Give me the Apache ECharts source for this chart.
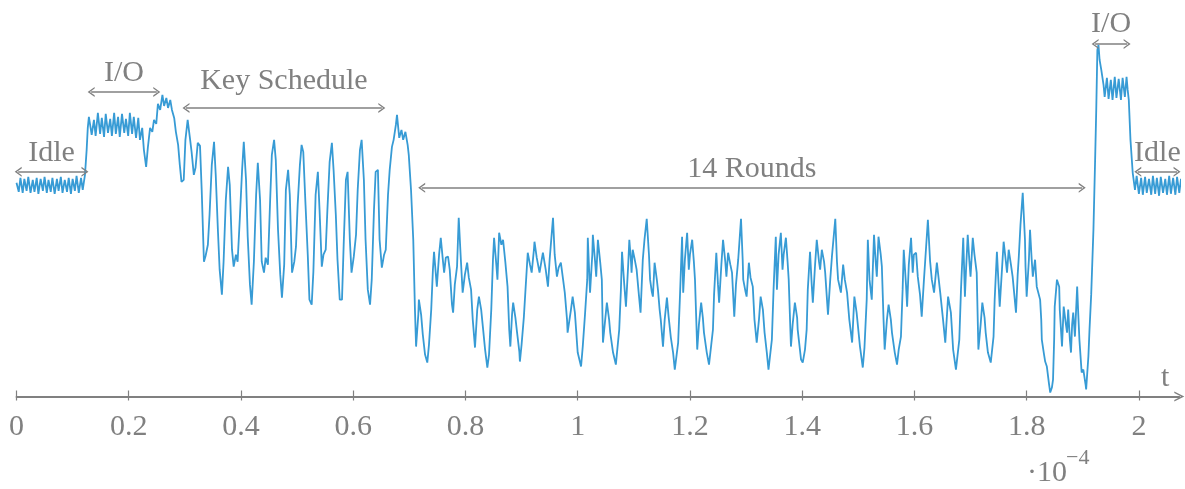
<!DOCTYPE html>
<html><head><meta charset="utf-8">
<script src="https://cdn.jsdelivr.net/npm/echarts@6/dist/echarts.min.js"></script>
<style>html,body{margin:0;padding:0;background:#fff}#c{width:1185px;height:489px}</style>
</head><body><div id="c"></div>
<script>
// time in units of 1e-4 s, power in arbitrary units
const tickValues = [0,0.2,0.4,0.6,0.8,1,1.2,1.4,1.6,1.8,2];

const idleStart = [[0,214],[0.004,205],[0.007,219],[0.011,204],[0.014,218],[0.018,206],[0.021,220],[0.025,204],[0.029,217],[0.032,205],[0.036,219],[0.039,203],[0.043,218],[0.047,206],[0.050,220],[0.054,204],[0.057,217],[0.061,205],[0.064,219],[0.068,203],[0.072,218],[0.075,206],[0.079,220],[0.082,204],[0.086,217],[0.090,205],[0.093,219],[0.097,203],[0.100,218],[0.104,206],[0.107,221],[0.111,204],[0.115,219],[0.118,207],[0.122,222]];

const ioStart = [[0.125,247],[0.127,269],[0.129,280],[0.131,282],[0.134,262],[0.138,277],[0.141,261],[0.145,284],[0.149,263],[0.152,279],[0.156,260],[0.159,283],[0.163,264],[0.167,278],[0.170,261],[0.174,284],[0.177,263],[0.181,280],[0.184,260],[0.188,283],[0.192,264],[0.195,278],[0.199,261],[0.202,284],[0.206,263],[0.209,280],[0.213,259],[0.217,279],[0.220,257],[0.224,269],[0.227,247],[0.231,230],[0.234,249],[0.238,269],[0.242,265],[0.245,277],[0.249,273],[0.252,293],[0.256,287],[0.260,302],[0.263,291],[0.267,299],[0.270,289],[0.274,297],[0.277,287],[0.281,279],[0.284,265],[0.288,252]];

const keySchedule = [[0.291,232],[0.294,215],[0.298,217],[0.301,257],[0.305,277],[0.309,259],[0.312,245],[0.316,222],[0.319,229],[0.323,254],[0.327,251],[0.330,207],[0.334,135],[0.337,141],[0.341,152],[0.344,182],[0.348,232],[0.352,255],[0.355,222],[0.359,165],[0.362,127],[0.366,102],[0.369,135],[0.373,197],[0.377,230],[0.380,212],[0.384,147],[0.387,130],[0.391,142],[0.394,135],[0.398,179],[0.402,227],[0.405,255],[0.409,217],[0.412,160],[0.416,112],[0.419,92],[0.423,135],[0.427,202],[0.430,234],[0.434,197],[0.437,135],[0.441,124],[0.444,139],[0.448,132],[0.452,197],[0.455,242],[0.459,257],[0.462,237],[0.466,167],[0.470,122],[0.473,99],[0.477,132],[0.480,207],[0.484,227],[0.487,202],[0.491,124],[0.495,135],[0.498,150],[0.501,192],[0.505,232],[0.508,252],[0.511,245],[0.515,192],[0.519,142],[0.522,97],[0.526,92],[0.529,125],[0.533,202],[0.537,225],[0.540,187],[0.544,130],[0.547,142],[0.551,147],[0.554,187],[0.558,235],[0.562,254],[0.565,227],[0.569,182],[0.572,137],[0.576,97],[0.580,97],[0.583,152],[0.587,217],[0.590,225],[0.594,157],[0.597,124],[0.601,140],[0.605,162],[0.608,207],[0.612,247],[0.615,257],[0.619,217],[0.622,157],[0.626,107],[0.630,92],[0.633,117],[0.637,187],[0.640,225],[0.644,227],[0.647,157],[0.651,129],[0.655,142],[0.658,147],[0.662,202],[0.665,227],[0.669,250],[0.672,257],[0.676,272],[0.678,282],[0.682,259],[0.686,267],[0.689,257],[0.693,265],[0.697,252],[0.699,242],[0.703,207],[0.707,157]];

const rounds = [[0.710,87],[0.712,50],[0.716,82],[0.717,97],[0.721,82],[0.724,62],[0.728,42],[0.732,34],[0.735,52],[0.739,87],[0.742,127],[0.744,145],[0.748,117],[0.749,110],[0.753,142],[0.756,159],[0.760,135],[0.762,124],[0.765,139],[0.769,140],[0.772,127],[0.776,92],[0.778,84],[0.781,112],[0.785,130],[0.788,179],[0.792,135],[0.795,104],[0.799,122],[0.803,134],[0.806,119],[0.810,107],[0.813,77],[0.817,49],[0.821,87],[0.824,100],[0.828,87],[0.831,70],[0.835,47],[0.839,29],[0.842,42],[0.846,87],[0.849,137],[0.851,159],[0.855,132],[0.857,117],[0.860,164],[0.864,152],[0.867,157],[0.871,135],[0.875,110],[0.878,67],[0.880,50],[0.883,82],[0.885,94],[0.889,79],[0.892,64],[0.896,45],[0.897,35],[0.900,52],[0.904,79],[0.907,107],[0.911,144],[0.915,132],[0.918,124],[0.922,147],[0.923,155],[0.927,139],[0.932,124],[0.938,144],[0.943,127],[0.947,110],[0.950,137],[0.956,179],[0.959,142],[0.963,120],[0.966,129],[0.970,134],[0.974,117],[0.977,104],[0.981,77],[0.982,64],[0.988,87],[0.991,100],[0.995,84],[1.000,44],[1.006,30],[1.009,50],[1.013,82],[1.017,117],[1.018,159],[1.022,104],[1.026,142],[1.027,162],[1.031,135],[1.033,120],[1.036,157],[1.040,135],[1.043,117],[1.045,54],[1.049,77],[1.052,94],[1.056,77],[1.058,64],[1.063,44],[1.068,32],[1.074,67],[1.077,107],[1.079,145],[1.083,112],[1.086,90],[1.090,132],[1.092,157],[1.095,135],[1.096,124],[1.098,147],[1.101,139],[1.105,127],[1.109,102],[1.112,84],[1.116,137],[1.119,157],[1.123,178],[1.127,142],[1.129,117],[1.132,105],[1.134,100],[1.137,134],[1.141,117],[1.143,107],[1.146,87],[1.148,77],[1.152,50],[1.155,77],[1.159,99],[1.162,80],[1.166,59],[1.170,44],[1.173,27],[1.179,54],[1.182,97],[1.186,160],[1.188,104],[1.191,137],[1.195,164],[1.198,127],[1.200,142],[1.204,157],[1.207,135],[1.209,117],[1.213,47],[1.216,72],[1.220,94],[1.223,79],[1.225,64],[1.230,44],[1.234,32],[1.238,52],[1.241,67],[1.243,102],[1.247,144],[1.250,112],[1.252,94],[1.256,132],[1.259,157],[1.263,135],[1.265,120],[1.268,144],[1.272,132],[1.275,124],[1.279,80],[1.282,112],[1.286,137],[1.291,178],[1.294,137],[1.295,117],[1.299,105],[1.301,100],[1.305,134],[1.308,119],[1.312,110],[1.315,77],[1.319,54],[1.323,77],[1.326,100],[1.330,87],[1.333,64],[1.337,44],[1.340,27],[1.346,57],[1.349,107],[1.353,160],[1.355,107],[1.358,142],[1.362,164],[1.365,127],[1.367,142],[1.371,159],[1.374,135],[1.376,117],[1.380,50],[1.383,72],[1.387,94],[1.391,79],[1.392,67],[1.398,37],[1.401,34],[1.405,47],[1.408,67],[1.410,107],[1.414,145],[1.417,112],[1.419,94],[1.423,132],[1.426,157],[1.430,135],[1.432,127],[1.435,147],[1.439,135],[1.441,124],[1.446,82],[1.450,117],[1.453,140],[1.459,178],[1.462,135],[1.464,117],[1.469,104],[1.473,132],[1.476,117],[1.480,104],[1.484,77],[1.489,54],[1.493,100],[1.497,84],[1.503,50],[1.508,29],[1.511,49],[1.515,97],[1.517,157],[1.520,117],[1.524,97],[1.528,162],[1.531,135],[1.533,120],[1.536,160],[1.540,142],[1.542,130],[1.545,77],[1.547,47],[1.551,77],[1.554,92],[1.558,77],[1.560,64],[1.565,44],[1.569,32],[1.572,47],[1.576,60],[1.579,107],[1.581,147],[1.585,112],[1.587,90],[1.590,132],[1.594,159],[1.597,124],[1.599,142],[1.603,144],[1.606,120],[1.610,102],[1.613,80],[1.617,117],[1.619,134],[1.624,177],[1.628,135],[1.631,117],[1.635,104],[1.640,134],[1.646,104],[1.651,77],[1.655,54],[1.660,100],[1.665,84],[1.669,47],[1.674,27],[1.680,57],[1.683,107],[1.687,159],[1.690,100],[1.692,127],[1.695,162],[1.698,135],[1.700,120],[1.704,159],[1.707,142],[1.711,124],[1.714,47],[1.718,72],[1.721,94],[1.725,79],[1.727,64],[1.731,44],[1.736,34],[1.741,60],[1.743,97],[1.747,145],[1.750,112],[1.752,90],[1.756,127],[1.759,155],[1.763,135],[1.765,124],[1.768,147],[1.772,132],[1.775,120],[1.781,84],[1.784,122],[1.786,140],[1.789,172],[1.793,204],[1.797,157],[1.798,130],[1.800,100],[1.804,137],[1.806,167],[1.809,137],[1.811,120],[1.815,137],[1.818,110],[1.824,97],[1.826,77],[1.827,57],[1.831,42],[1.833,35],[1.836,30],[1.840,12],[1.842,4],[1.845,9],[1.847,17],[1.849,57],[1.850,90],[1.854,117],[1.858,110],[1.859,87],[1.863,50],[1.865,77],[1.866,90],[1.870,72],[1.872,64],[1.874,87],[1.877,57],[1.879,44],[1.881,72],[1.883,84],[1.886,60],[1.890,110],[1.892,82],[1.894,57],[1.898,24],[1.901,27],[1.905,12],[1.906,7],[1.910,40],[1.912,67],[1.915,102],[1.919,167],[1.922,237],[1.924,287],[1.926,347]];

const ioEnd = [[1.928,352],[1.930,337],[1.933,327],[1.937,312],[1.939,300],[1.943,319],[1.946,298],[1.950,317],[1.953,297],[1.957,320],[1.960,299],[1.964,318],[1.968,297],[1.971,319],[1.975,300],[1.978,320],[1.980,307],[1.982,297],[1.985,257]];

const idleEnd = [[1.989,224],[1.993,207],[1.996,221],[2.000,203],[2.004,219],[2.007,202],[2.011,220],[2.014,204],[2.018,218],[2.022,202],[2.025,221],[2.029,203],[2.032,219],[2.036,201],[2.039,220],[2.043,204],[2.047,218],[2.050,202],[2.054,221],[2.057,203],[2.061,219],[2.065,202],[2.068,220],[2.072,204],[2.075,218],[2.079,203],[2.083,219]];

const phaseNames = ['Idle','I/O','Key Schedule','14 Rounds','I/O','Idle'];
const phaseStart = [0.003,0.133,0.302,0.722,1.922,1.998];
const phaseEnd   = [0.122,0.250,0.651,1.899,1.979,2.068];
const phaseLevel = [225,305,289,209,353,225];

const trace = [].concat(idleStart, ioStart, keySchedule, rounds, ioEnd, idleEnd);

const GRAY = '#808080';
const FONT = '"Liberation Serif","Times New Roman",serif';
const chevron = 'path://M5,0L10,10L8.4,10L5,3.2L1.6,10L0,10Z';
const labelGap = [4,4,12,4,5,4];

const chart = echarts.init(document.getElementById('c'), null, {renderer:'canvas'});
chart.setOption({
  animation:false,
  backgroundColor:'#fff',
  grid:{left:16.5,right:5.7,top:37,bottom:92.5},
  xAxis:[{
    type:'value',min:0,max:2.072,position:'bottom',
    axisLine:{show:true,onZero:false,lineStyle:{color:GRAY,width:1.8},symbol:['none',chevron],symbolSize:[12,10]},
    axisTick:{show:true,inside:false,length:4,lineStyle:{color:GRAY,width:1.2},customValues:tickValues},
    axisLabel:{show:true,customValues:tickValues,color:GRAY,fontFamily:FONT,fontSize:30,margin:16},
    splitLine:{show:false}
  },{
    type:'value',min:0,max:2.072,position:'bottom',
    axisLine:{show:false,onZero:false},
    axisTick:{show:true,inside:true,length:6,lineStyle:{color:GRAY,width:1.2},customValues:tickValues},
    axisLabel:{show:false},splitLine:{show:false}
  }],
  yAxis:{type:'value',min:0,max:360,show:false},
  series:[{
    type:'line',data:trace,xAxisIndex:0,showSymbol:false,symbol:'none',clip:false,
    lineStyle:{color:'#379bd5',width:1.8},
    emphasis:{disabled:true},
    markLine:{
      silent:true,animation:false,
      symbol:[chevron,chevron],symbolSize:[10,7],
      lineStyle:{color:GRAY,width:1.5,type:'solid'},
      label:{show:true,position:'insideMiddleTop',formatter:'{b}',color:GRAY,fontFamily:FONT,fontSize:30},
      data:phaseNames.map((n,i)=>[
        {name:n,coord:[phaseStart[i],phaseLevel[i]],label:{distance:labelGap[i]}},
        {coord:[phaseEnd[i],phaseLevel[i]]}
      ])
    }
  }],
  graphic:[
    {type:'text',left:1161,top:363,style:{text:'t',fontFamily:FONT,fontSize:30,fill:GRAY}},
    {type:'text',left:1027,top:458,style:{text:'·10',fontFamily:FONT,fontSize:30,fill:GRAY}},
    {type:'text',left:1066,top:447,style:{text:'−4',fontFamily:FONT,fontSize:22,fill:GRAY}}
  ]
});
</script>
</body></html>
